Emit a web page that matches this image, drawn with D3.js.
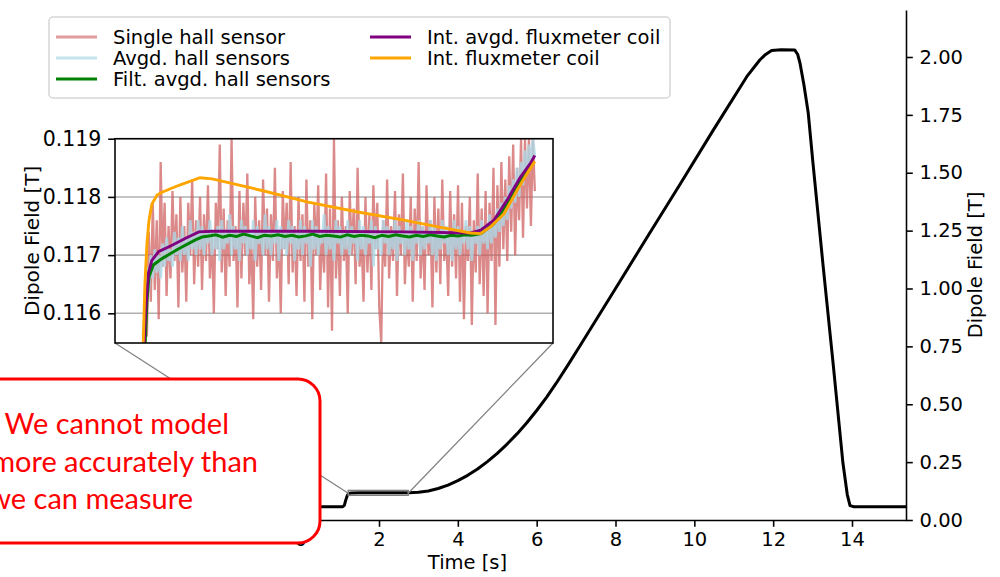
<!DOCTYPE html>
<html>
<head>
<meta charset="utf-8">
<script src="https://cdn.jsdelivr.net/npm/d3@7"></script>
<style>
  html, body { margin: 0; padding: 0; background: #fff; }
  svg { display: block; }
  text { font-family: "DejaVu Sans", sans-serif; }
</style>
</head>
<body>
<svg id="chart" width="1000" height="577"></svg>
<script>
// ---- main trace: dipole field over the cycle ----
const mainT = [-6.5, 1.08, 1.12, 1.16, 1.2, 1.24, 1.3, 1.5, 2.0, 2.5, 2.76, 3.0, 3.25, 3.5, 3.75,
  4.0, 4.25, 4.5, 4.75, 5.0, 5.25, 5.5, 5.75, 6.0, 6.25, 6.5, 6.8, 7.1, 7.95, 8.79, 9.63, 10.48,
  11.33, 11.66, 11.8, 11.96, 12.2, 12.55, 12.62, 12.68, 12.78, 12.89, 13.01, 13.26, 13.52, 13.77,
  13.88, 13.95, 14.05, 15.37];
const mainB = [0.0575, 0.0575, 0.063, 0.088, 0.108, 0.115, 0.1168, 0.1172, 0.1173, 0.1174, 0.1175,
  0.1195, 0.1256, 0.136, 0.151, 0.170, 0.193, 0.220, 0.252, 0.288, 0.328, 0.372, 0.420, 0.473,
  0.530, 0.592, 0.671, 0.753, 0.986, 1.218, 1.448, 1.684, 1.915, 1.987, 2.010, 2.028, 2.031, 2.030,
  2.012, 1.974, 1.880, 1.758, 1.542, 1.110, 0.678, 0.246, 0.110, 0.062, 0.0575, 0.0575];
const xTicks = [0, 2, 4, 6, 8, 10, 12, 14];
const yTicks = [0, 0.25, 0.5, 0.75, 1.0, 1.25, 1.5, 1.75, 2.0];

// ---- inset (values in mT) ----
const insetT = [1.22, 2.74];
const insetB = [115.49, 119.0];
const insetTicks = [116, 117, 118, 119];

// hall sensors sampled on a regular grid
const hallT0 = 1.317, hallDt = 0.006834;
const singleHall = [
  115.4,116.1,115.6,117.4,116.2,117.9,116.4,117.6,115.9,118.6,
  116.8,117.9,116.3,117.5,116.6,118.1,116.9,117.7,116.1,118.0,
  116.7,117.5,116.2,117.9,117.0,118.3,116.5,117.6,116.8,118.0,
  116.4,117.7,116.9,118.2,116.6,117.4,116.0,117.9,117.1,118.9,
  116.7,117.8,116.3,117.6,116.8,119.0,116.9,117.5,116.1,118.1,
  116.6,117.9,117.0,118.4,116.5,117.3,115.9,118.0,116.8,117.6,
  116.4,118.3,117.0,117.8,116.2,117.7,116.9,118.5,116.6,117.4,
  116.0,118.1,117.1,117.9,116.5,118.6,116.7,117.5,116.3,118.0,
  116.9,117.7,116.2,118.3,116.8,117.6,115.9,117.9,117.0,118.2,
  116.4,117.4,116.7,118.4,116.1,117.8,115.7,119.0,116.6,117.6,
  116.3,118.0,116.9,117.5,116.0,118.1,117.0,117.8,116.5,118.5,
  116.8,117.3,116.2,118.0,116.7,117.7,116.4,118.2,117.1,117.9,
  116.1,115.5,117.6,116.8,118.3,116.6,117.5,116.9,118.1,116.3,
  117.7,117.0,118.4,116.5,117.4,116.8,118.0,116.2,117.8,116.9,
  118.6,116.6,117.5,116.4,118.2,117.0,117.6,116.1,118.0,116.7,
  117.8,116.5,118.3,116.9,117.4,116.3,118.1,116.8,117.7,116.6,
  118.2,116.2,117.9,115.9,117.5,116.9,118.0,115.8,117.6,116.7,
  118.4,116.5,117.8,116.3,118.1,116.0,117.9,116.9,118.5,115.8,
  118.2,116.8,118.6,117.1,118.3,116.9,118.7,117.4,118.9,117.0,
  118.5,117.6,119.0,117.3,119.0,117.8,119.0,117.5,119.0,118.1];
const avgHall = [
  115.6,116.0,116.8,116.4,117.0,116.6,117.1,116.7,117.0,116.6,
  117.2,116.8,117.3,116.9,117.1,116.8,117.4,117.0,117.3,116.9,
  117.5,117.0,117.3,116.9,117.6,117.1,117.4,117.0,117.6,117.1,
  117.5,117.0,117.4,117.2,117.6,117.0,117.4,117.1,117.5,116.9,
  117.6,117.1,117.4,117.2,117.7,117.0,117.5,117.1,117.4,116.9,
  117.6,117.2,117.5,117.0,117.4,117.1,117.6,116.9,117.5,117.2,
  117.4,117.0,117.7,117.1,117.5,117.0,117.4,117.2,117.6,116.9,
  117.5,117.1,117.4,117.0,117.6,117.2,117.5,116.9,117.4,117.1,
  117.6,117.0,117.5,117.2,117.4,116.8,117.6,117.1,117.5,117.0,
  117.4,117.2,117.7,117.0,117.5,117.1,117.4,116.9,117.6,117.2,
  117.5,117.0,117.4,117.1,117.6,117.0,117.5,117.2,117.4,116.9,
  117.6,117.1,117.5,117.0,117.4,117.2,117.6,116.8,117.5,117.1,
  117.4,117.0,117.6,117.2,117.5,117.0,117.4,117.1,117.6,116.9,
  117.5,117.2,117.4,117.0,117.6,117.1,117.5,116.9,117.4,117.2,
  117.6,117.0,117.5,117.1,117.4,117.2,117.6,117.0,117.5,116.9,
  117.4,117.1,117.6,117.2,117.5,117.0,117.4,116.9,117.6,117.1,
  117.5,117.0,117.4,117.2,117.6,117.1,117.5,116.9,117.4,117.2,
  117.5,117.0,117.6,117.2,117.5,117.1,117.7,117.2,117.6,117.3,
  117.8,117.4,117.9,117.5,118.0,117.6,118.2,117.8,118.3,117.9,
  118.5,118.0,118.6,118.2,118.8,118.4,118.9,118.5,119.0,118.7];

// filtered average: rise, plateau (regular grid), rise
const filtRiseT = [1.319, 1.331, 1.338, 1.353, 1.383, 1.441, 1.499, 1.522];
const filtRiseV = [114.8, 116.23, 116.63, 116.83, 116.94, 117.11, 117.26, 117.31];
const filtT0 = 1.546, filtDt = 0.024;
const filtPlateau = [117.33,117.35,117.31,117.34,117.32,117.36,117.33,117.30,117.34,117.33,
  117.35,117.32,117.34,117.31,117.33,117.36,117.32,117.34,117.33,117.31,117.35,117.32,117.34,
  117.33,117.30,117.34,117.32,117.35,117.33,117.31,117.34,117.32,117.35,117.33,117.31,117.34,
  117.33,117.35,117.34];
const filtEndT = [2.49, 2.535, 2.58, 2.627, 2.661, 2.672];
const filtEndV = [117.37, 117.54, 117.88, 118.29, 118.52, 118.62];

const fluxAvgT = [1.318, 1.324, 1.329, 1.336, 1.348, 1.371, 1.418, 1.465, 1.511, 1.557, 1.9, 2.223,
  2.454, 2.489, 2.535, 2.580, 2.627, 2.661, 2.677];
const fluxAvgV = [114.8, 115.8, 116.23, 116.69, 116.91, 117.06, 117.17, 117.29, 117.40, 117.41,
  117.41, 117.40, 117.38, 117.43, 117.60, 117.94, 118.34, 118.57, 118.71];

const fluxT = [1.314, 1.318, 1.324, 1.331, 1.338, 1.348, 1.366, 1.383, 1.442, 1.515, 1.557, 1.730,
  1.890, 2.063, 2.223, 2.337, 2.454, 2.489, 2.524, 2.570, 2.615, 2.650, 2.677];
const fluxV = [114.8, 115.5, 116.52, 117.20, 117.60, 117.88, 118.03, 118.08, 118.20, 118.33, 118.31,
  118.11, 117.91, 117.74, 117.60, 117.49, 117.38, 117.37, 117.49, 117.71, 118.11, 118.40, 118.61];

const legendItems = [
  { name: "Single hall sensor", color: "#cd5c5c", op: 0.6 },
  { name: "Avgd. hall sensors", color: "#add8e6", op: 0.7 },
  { name: "Filt. avgd. hall sensors", color: "#008000", op: 1 },
  { name: "Int. avgd. fluxmeter coil", color: "#800080", op: 1 },
  { name: "Int. fluxmeter coil", color: "#ffa500", op: 1 }
];

const svg = d3.select("#chart");
const FS = 19.5;

// ---------- main axes ----------
const x = d3.scaleLinear().domain([-6.88, 15.37]).range([29, 906]);
const y = d3.scaleLinear().domain([0, 2.203]).range([520, 10]);

const xAxis = svg.append("g")
  .attr("transform", "translate(0,520)")
  .call(d3.axisBottom(x).tickValues(xTicks).tickSize(6.8).tickPadding(5.5).tickSizeOuter(0));
const yAxis = svg.append("g")
  .attr("transform", "translate(906,0)")
  .call(d3.axisRight(y).tickValues(yTicks).tickFormat(d3.format(".2f"))
    .tickSize(6.8).tickPadding(6.8).tickSizeOuter(0));
[xAxis, yAxis].forEach(g => {
  g.attr("font-family", "DejaVu Sans").attr("font-size", FS);
  g.selectAll("path.domain").attr("stroke", "#000").attr("stroke-width", 1.56);
  g.selectAll(".tick line").attr("stroke", "#000").attr("stroke-width", 1.56);
  g.selectAll(".tick text").attr("fill", "#000");
});

svg.append("text")
  .attr("x", (x.range()[0] + x.range()[1]) / 2).attr("y", 569)
  .attr("text-anchor", "middle").attr("font-size", FS)
  .text("Time [s]");
svg.append("text")
  .attr("transform", "translate(982," + (y.range()[0] + y.range()[1]) / 2 + ") rotate(-90)")
  .attr("text-anchor", "middle").attr("font-size", FS)
  .text("Dipole Field [T]");

const mainLine = d3.line().x(i => x(mainT[i])).y(i => y(mainB[i]));
svg.append("path")
  .attr("d", mainLine(d3.range(mainT.length)))
  .attr("fill", "none").attr("stroke", "#000").attr("stroke-width", 3)
  .attr("stroke-linejoin", "round");

// ---------- inset ----------
const ix = d3.scaleLinear().domain(insetT).range([115, 553]);
const iy = d3.scaleLinear().domain(insetB).range([343, 138.7]);

// zoom marker on the main axes + connectors
const rx0 = x(insetT[0]), rx1 = x(insetT[1]);
const ry0 = y(insetB[0] / 1000), ry1 = y(insetB[1] / 1000);
svg.append("rect")
  .attr("x", rx0).attr("y", ry1 - 2)
  .attr("width", rx1 - rx0).attr("height", ry0 - ry1 + 4)
  .attr("fill", "none").attr("stroke", "#808080").attr("stroke-width", 1.5);
svg.append("line").attr("x1", ix.range()[0]).attr("y1", iy.range()[0])
  .attr("x2", rx0).attr("y2", ry0).attr("stroke", "#808080").attr("stroke-width", 1.2);
svg.append("line").attr("x1", ix.range()[1]).attr("y1", iy.range()[0])
  .attr("x2", rx1).attr("y2", ry0).attr("stroke", "#808080").attr("stroke-width", 1.2);

const inset = svg.append("g");
inset.append("rect")
  .attr("x", 115).attr("y", 138.7).attr("width", 438).attr("height", 343 - 138.7)
  .attr("fill", "#fff");
svg.append("clipPath").attr("id", "insetClip").append("rect")
  .attr("x", 115).attr("y", 138.7).attr("width", 438).attr("height", 343 - 138.7);

inset.selectAll("line.grid").data(insetTicks).enter().append("line")
  .attr("class", "grid")
  .attr("x1", 115).attr("x2", 553)
  .attr("y1", d => iy(d)).attr("y2", d => iy(d))
  .attr("stroke", "#b0b0b0").attr("stroke-width", 1.56);

const plot = inset.append("g").attr("clip-path", "url(#insetClip)");
const pairLine = d3.line().x(d => ix(d[0])).y(d => iy(d[1]));

const hallPts = arr => arr.map((v, i) => [hallT0 + i * hallDt, v]);
const zipPts = (ts, vs) => ts.map((t, i) => [t, vs[i]]);
const filtPts = zipPts(filtRiseT, filtRiseV)
  .concat(filtPlateau.map((v, i) => [filtT0 + i * filtDt, v]))
  .concat(zipPts(filtEndT, filtEndV));

plot.append("path").attr("d", pairLine(hallPts(singleHall)))
  .attr("fill", "none").attr("stroke", "#cd5c5c").attr("stroke-opacity", 0.72)
  .attr("stroke-width", 2.3).attr("stroke-linejoin", "bevel");
plot.append("path").attr("d", pairLine(hallPts(avgHall)))
  .attr("fill", "none").attr("stroke", "#add8e6").attr("stroke-opacity", 0.8)
  .attr("stroke-width", 2.8).attr("stroke-linejoin", "bevel");
plot.append("path").attr("d", pairLine(filtPts))
  .attr("fill", "none").attr("stroke", "#008000").attr("stroke-width", 3);
plot.append("path").attr("d", pairLine(zipPts(fluxAvgT, fluxAvgV)))
  .attr("fill", "none").attr("stroke", "#800080").attr("stroke-width", 2.9);
plot.append("path").attr("d", pairLine(zipPts(fluxT, fluxV)))
  .attr("fill", "none").attr("stroke", "#ffa500").attr("stroke-width", 2.9);

inset.append("rect")
  .attr("x", 115).attr("y", 138.7).attr("width", 438).attr("height", 343 - 138.7)
  .attr("fill", "none").attr("stroke", "#000").attr("stroke-width", 1.56);

const iAxis = inset.append("g")
  .attr("transform", "translate(115,0)")
  .call(d3.axisLeft(iy).tickValues(insetTicks).tickFormat(v => d3.format(".3f")(v / 1000))
    .tickSize(6.8).tickPadding(6.8).tickSizeOuter(0));
iAxis.attr("font-family", "DejaVu Sans").attr("font-size", 20.5);
iAxis.select("path.domain").remove();
iAxis.selectAll(".tick line").attr("stroke", "#000").attr("stroke-width", 1.56);
iAxis.selectAll(".tick text").attr("fill", "#000");

inset.append("text")
  .attr("transform", "translate(39," + (iy.range()[0] + iy.range()[1]) / 2 + ") rotate(-90)")
  .attr("text-anchor", "middle").attr("font-size", 20)
  .text("Dipole Field [T]");

// ---------- legend ----------
const leg = svg.append("g");
leg.append("rect")
  .attr("x", 49).attr("y", 17).attr("width", 621).attr("height", 81)
  .attr("rx", 4).attr("fill", "#fff").attr("fill-opacity", 0.8)
  .attr("stroke", "#d6d6d6").attr("stroke-width", 1.5);
const colX = [56, 370], rowY = [37, 58, 79];
legendItems.forEach((d, i) => {
  const c = i < 3 ? 0 : 1, r = i < 3 ? i : i - 3;
  leg.append("line")
    .attr("x1", colX[c]).attr("x2", colX[c] + 41)
    .attr("y1", rowY[r]).attr("y2", rowY[r])
    .attr("stroke", d.color).attr("stroke-opacity", d.op).attr("stroke-width", 2.9);
  leg.append("text")
    .attr("x", colX[c] + 57).attr("y", rowY[r]).attr("dy", "0.35em")
    .attr("font-size", FS).text(d.name);
});

// ---------- callout box (runs off the left edge, as in the slide) ----------
const note = svg.append("g");
note.append("rect")
  .attr("x", -40).attr("y", 379).attr("width", 360).attr("height", 164)
  .attr("rx", 22).attr("fill", "#fff").attr("stroke", "#ff0000").attr("stroke-width", 3);
const noteLines = ["We cannot model", "more accurately than", "we can measure"];
const noteEnds = [229, 258, 193];
note.selectAll("text").data(noteLines).enter().append("text")
  .attr("x", (d, i) => noteEnds[i]).attr("y", (d, i) => 434 + i * 37.5)
  .attr("text-anchor", "end")
  .style("font-family", "Lato, 'Open Sans', sans-serif")
  .attr("font-size", 29).attr("fill", "#ff0000")
  .text(d => d);
</script>
</body>
</html>
